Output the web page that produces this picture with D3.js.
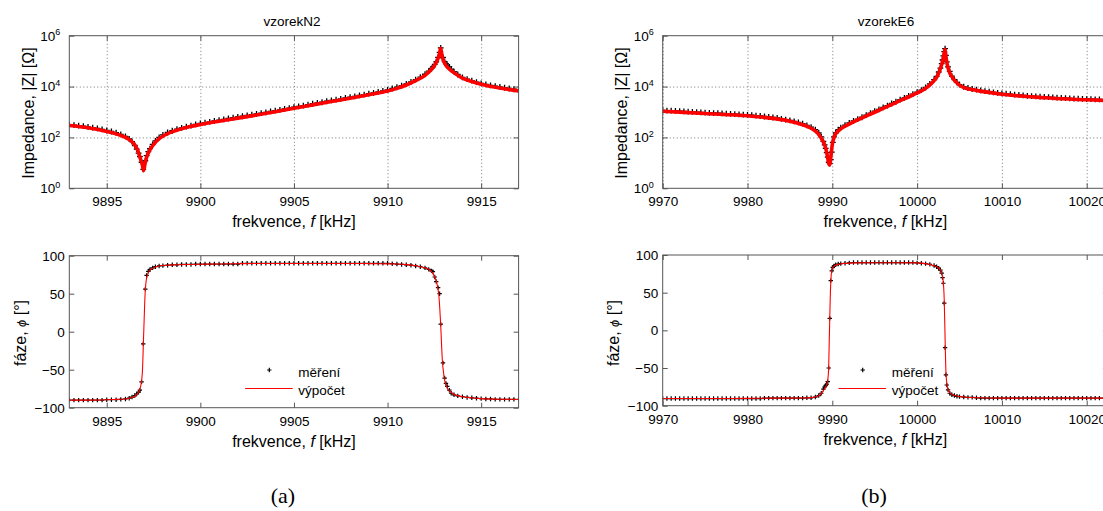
<!DOCTYPE html>
<html>
<head>
<meta charset="utf-8">
<script src="https://cdn.jsdelivr.net/npm/d3@7"></script>
<style>
    body{margin:0;background:#fff;}
    svg{display:block;}
    .grid .domain{display:none;}
    .grid line{stroke:#555;stroke-dasharray:1,2.5;stroke-width:0.8;}
    .ax .domain{display:none;}
    .ax line{stroke:#555;}
</style>
</head>
<body>
<div id="canvas"></div>
<script>
// vzorekN2 - measured points (f in kHz, log10 |Z| in ohm, phase in deg)
var fN2 = [9893,9893.25,9893.5,9893.75,9894,9894.25,9894.5,9894.75,9895,9895.25,9895.5,9895.75,
    9896,9896.2,9896.35,9896.5,9896.6,9896.7,9896.77,9896.86,9896.95,9897.06,9897.13,9897.22,9897.31,9897.45,9897.6,9897.8,
    9898,9898.25,9898.5,9898.75,9899,9899.25,9899.5,9899.75,9900,9900.25,9900.5,9900.75,9901,9901.25,9901.5,9901.75,
    9902,9902.25,9902.5,9902.75,9903,9903.25,9903.5,9903.75,9904,9904.25,9904.5,9904.75,9905,9905.25,9905.5,9905.75,
    9906,9906.25,9906.5,9906.75,9907,9907.25,9907.5,9907.75,9908,9908.25,9908.5,9908.75,9909,9909.25,9909.5,9909.75,
    9910,9910.25,9910.5,9910.75,9911,9911.25,9911.5,9911.75,9912,
    9912.2,9912.35,9912.42,9912.52,9912.6,9912.7,9912.78,9912.84,9912.96,9913.05,9913.12,9913.19,9913.3,9913.4,9913.55,9913.75,
    9914,9914.25,9914.5,9914.75,9915,9915.25,9915.5,9915.75,9916,9916.25,9916.5,9916.75,9917];
var logZN2 = [2.48,2.46,2.44,2.42,2.39,2.36,2.33,2.29,2.25,2.21,2.16,2.10,
    2.02,1.92,1.81,1.66,1.52,1.36,1.22,1.00,0.72,1.06,1.26,1.42,1.54,1.70,1.84,1.98,
    2.08,2.17,2.24,2.30,2.35,2.40,2.44,2.49,2.53,2.56,2.59,2.63,2.66,2.69,2.72,2.75,
    2.78,2.81,2.84,2.87,2.90,2.93,2.96,3.00,3.03,3.06,3.10,3.13,3.17,3.20,3.23,3.27,
    3.30,3.33,3.36,3.40,3.43,3.46,3.49,3.53,3.56,3.59,3.63,3.66,3.70,3.73,3.77,3.81,
    3.85,3.90,3.95,4.01,4.08,4.16,4.25,4.35,4.46,
    4.58,4.69,4.75,4.85,4.95,5.12,5.32,5.50,5.12,4.96,4.88,4.82,4.75,4.66,4.56,4.45,
    4.34,4.27,4.21,4.15,4.10,4.06,4.02,3.99,3.96,3.93,3.90,3.87,3.85];
var phN2 = [-90,-90,-90,-90,-90,-90,-90,-90,-89.5,-89.5,-89.5,-89,
    -88.5,-87.5,-86,-84,-82,-79.5,-77,-66,-16,56,74,79.5,82,84,85.5,86.5,
    87,87.5,88,88,88.5,88.5,88.5,89,89,89,89,89,89,89,89,89,
    89,90,90,90,90,90,90,90,90,90,90,90,90,90,90,90,
    90,90,90,90,90,90,90,90,90,90,90,90,90,90,90,90,
    90,89.5,89,88.5,88,87.5,86.5,85.5,84,
    82,80,79,72,66,58,50,10,-41,-61,-68,-72,-77,-81,-83,-84.5,
    -85.5,-86.5,-87,-87.5,-88,-88.5,-88.5,-89,-89,-89,-89,-89,-89];

// vzorekN2 - computed model
var fitFN2 = [9893,9894,9895,9895.5,9896,9896.3,9896.5,9896.65,9896.8,9896.9,9896.97,9897.05,9897.15,9897.3,9897.5,
    9897.8,9898.2,9898.7,9899.3,9900,9901,9902,9903,9904,9905,9906,9907,9908,9909,9910,
    9910.5,9911,9911.5,9912,9912.3,9912.5,9912.65,9912.75,9912.84,9912.92,9913.02,9913.15,9913.35,9913.6,9914,
    9914.5,9915,9916,9917];
var fitLogZN2 = [2.47,2.38,2.23,2.14,2.00,1.86,1.70,1.50,1.16,0.92,0.70,0.98,1.26,1.50,1.72,
    1.95,2.13,2.27,2.40,2.51,2.64,2.76,2.88,3.01,3.15,3.28,3.41,3.54,3.68,3.83,
    3.93,4.06,4.23,4.44,4.64,4.82,5.02,5.22,5.50,5.18,4.96,4.80,4.66,4.52,4.33,
    4.20,4.09,3.94,3.83];
var fitPhN2 = [-90,-90,-89.5,-89,-88.5,-87,-85,-81.5,-73,-55,-5,50,73,80.5,84,
    86.5,87.5,88,88.5,88.8,89,89.5,89.8,89.8,89.8,89.8,89.8,89.8,89.6,89.3,
    89,88.3,86.8,84,80.5,73,62,45,8,-35,-60,-72,-79,-83,-85.5,
    -87,-88,-88.8,-89.2];

// vzorekE6 - measured points
var fE6 = [9970,9970.5,9971,9971.5,9972,9972.5,9973,9973.5,9974,9974.5,9975,9975.5,9976,9976.5,9977,9977.5,9978,9978.5,
    9979,9979.5,9980,9980.5,9981,9981.5,9982,9982.5,9983,9983.5,9984,9984.5,9985,9985.5,9986,9986.5,9987,9987.5,
    9988,9988.4,9988.7,9988.95,9989.1,9989.22,9989.34,9989.46,9989.58,9989.7,9989.82,9989.94,9990.06,9990.2,9990.4,9990.7,9991,
    9991.5,9992,9992.5,9993,9993.5,9994,9994.5,9995,9995.5,9996,9996.5,9997,9997.5,9998,9998.5,9999,9999.5,10000,10000.5,10001,10001.5,10002,
    10002.3,10002.55,10002.75,10002.9,10003,10003.1,10003.2,10003.3,10003.4,10003.5,10003.65,10003.85,10004.1,10004.4,10004.7,10005,
    10005.5,10006,10006.5,10007,10007.5,10008,10008.5,10009,10009.5,10010,10010.5,10011,10011.5,10012,10012.5,10013,10013.5,
    10014,10014.5,10015,10015.5,10016,10016.5,10017,10017.5,10018,10018.5,10019,10019.5,10020,10020.5,10021,10021.5,10022];
var logZE6 = [3.04,3.03,3.03,3.02,3.01,3.00,2.99,2.98,2.97,2.96,2.95,2.94,2.93,2.93,2.92,2.91,2.90,2.89,
    2.88,2.87,2.86,2.85,2.83,2.82,2.80,2.78,2.76,2.74,2.71,2.68,2.65,2.61,2.57,2.52,2.45,2.38,
    2.28,2.15,2.00,1.82,1.68,1.55,1.38,1.20,1.00,0.95,1.10,1.40,1.78,2.00,2.15,2.28,2.36,
    2.46,2.55,2.63,2.70,2.77,2.85,2.93,3.01,3.08,3.16,3.23,3.31,3.38,3.46,3.53,3.61,3.68,3.76,3.84,3.94,4.08,4.25,
    4.38,4.55,4.70,4.88,5.02,5.18,5.35,5.47,5.20,4.95,4.75,4.57,4.39,4.25,4.14,4.05,
    3.97,3.92,3.88,3.86,3.83,3.80,3.78,3.75,3.73,3.71,3.70,3.68,3.66,3.65,3.63,3.61,3.60,
    3.59,3.58,3.57,3.56,3.55,3.54,3.53,3.52,3.51,3.50,3.50,3.49,3.48,3.48,3.47,3.47,3.46];
var phE6 = [-90.5,-90.5,-90.5,-90.5,-90.5,-90.5,-90.5,-90.5,-90.5,-90.5,-90.5,-90.5,-90.5,-90.5,-90.5,-90.5,-90.5,-90.5,
    -90.5,-90.5,-90.5,-90.5,-90.5,-90.5,-90,-90,-90,-90,-90,-90,-90,-90,-90,-90,-89.5,-89.5,
    -88.5,-86.5,-83.5,-78,-75,-73,-71.5,-68,-50,16,66,79,83.5,85.5,87,88,88.5,
    89,89.5,90,90,90,90,90,90,90,90,90,90,90,90,90,90,90,89.5,89,88.5,87.5,86,
    84.5,82.5,80,76,70,62.5,36,-23,-59,-72.5,-79,-83.5,-85.5,-86.5,-87.5,-88,
    -88.5,-89,-89,-89.5,-90,-90,-90,-90,-90,-90,-90,-90,-90,-90,-90,-90,-90,
    -90,-90,-90,-90,-90,-90,-90,-90,-90,-90,-90,-90,-90,-90,-90,-90,-90];

// vzorekE6 - computed model
var fitFE6 = [9970,9975,9980,9983,9985,9986.5,9987.5,9988.3,9988.9,9989.2,
    9989.4,9989.55,9989.65,9989.75,9989.85,9990,9990.3,9990.8,9991.5,9992.5,
    9995,9997.5,10000,10001,10001.8,10002.4,10002.8,10003.05,10003.2,10003.3,
    10003.4,10003.55,10003.8,10004.2,10004.8,10005.5,10007,10010,10015,10022.5];
var fitLogZE6 = [3.03,2.94,2.85,2.75,2.64,2.50,2.36,2.16,1.85,1.60,
    1.30,1.02,0.92,1.00,1.30,1.72,2.08,2.28,2.44,2.61,
    2.99,3.37,3.75,3.93,4.16,4.42,4.76,5.07,5.32,5.47,
    5.18,4.87,4.58,4.34,4.11,3.96,3.85,3.70,3.56,3.45];
var fitPhE6 = [-90.5,-90.5,-90.3,-90,-90,-89.8,-89.3,-87.5,-81,-75,
    -70,-55,-10,40,70,82,86,87.8,88.8,89.5,
    89.8,89.8,89.5,88.5,86.5,84,79,68,40,-10,
    -55,-74,-82,-85.5,-87.5,-88.5,-89.5,-90,-90,-90];

var ticksN2 = [9895,9900,9905,9910,9915];
var ticksE6 = [9970,9980,9990,10000,10010,10020];
var zTicks = [1,1e2,1e4,1e6];
var phTicks = [-100,-50,0,50,100];
var legendLabels = ["měření","výpočet"];

(function(){

    var FONT = "'Liberation Sans', Arial, sans-serif";
    var svg = d3.select("#canvas").append("svg").attr("width",1103).attr("height",511)
        .attr("font-family",FONT);
    var defs = svg.append("defs");
    var plus = "M-2.2,0H2.2M0,-2.2V2.2";
    var plusBig = "M-2.9,0H2.9M0,-2.9V2.9";

    function styleAxis(g,fs){
        g.attr("font-size",fs).attr("font-family",FONT);
        g.selectAll("text").attr("fill","#000");
        return g;
    }

    function drawPanel(p){
        var x = d3.scaleLinear().domain(p.xDomain).range([p.left,p.right]);
        var yZ = d3.scaleLog().domain([1,1e6]).range([188.3,35.7]);
        var yP = d3.scaleLinear().domain([-100,100]).range(p.phRange);
        var w = p.right-p.left;

        var meas = p.f.map(function(f,i){ return {f:f, z:Math.pow(10,p.logZ[i]), ph:p.ph[i]}; });
        var fit = p.fitF.map(function(f,i){ return {f:f, z:Math.pow(10,p.fitLogZ[i]), ph:p.fitPh[i]}; });

        defs.append("clipPath").attr("id","ct"+p.name).append("rect")
            .attr("x",p.left).attr("y",35.7).attr("width",w).attr("height",188.3-35.7);
        defs.append("clipPath").attr("id","cb"+p.name).append("rect")
            .attr("x",p.left).attr("y",p.phRange[1]).attr("width",w).attr("height",p.phRange[0]-p.phRange[1]);

        // ---- impedance plot
        var top = svg.append("g");
        top.append("g").attr("class","grid").attr("transform","translate(0,188.3)")
            .call(d3.axisBottom(x).tickValues(p.xTicks).tickSize(-(188.3-35.7)).tickFormat(""));
        top.append("g").attr("class","grid").attr("transform","translate("+p.left+",0)")
            .call(d3.axisLeft(yZ).tickValues([1e2,1e4]).tickSize(-w).tickFormat(""));

        var ct = top.append("g").attr("clip-path","url(#ct"+p.name+")");
        ct.selectAll("path.m").data(meas).join("path").attr("class","m")
            .attr("d",plusBig).attr("transform",function(d){ return "translate("+x(d.f)+","+(yZ(d.z)-0.6)+")"; })
            .attr("stroke","#000").attr("stroke-width",1.3);
        ct.append("path").datum(fit)
            .attr("d",d3.line().x(function(d){return x(d.f);}).y(function(d){return yZ(d.z);}).curve(d3.curveMonotoneX))
            .attr("fill","none").attr("stroke","#f00").attr("stroke-width",3.6).attr("stroke-linejoin","round");

        top.append("rect").attr("x",p.left).attr("y",35.7).attr("width",w).attr("height",188.3-35.7)
            .attr("fill","none").attr("stroke","#555").attr("stroke-width",1);

        styleAxis(top.append("g").attr("class","ax").attr("transform","translate(0,188.3)")
            .call(d3.axisBottom(x).tickValues(p.xTicks).tickSizeInner(-5).tickSizeOuter(0).tickPadding(8.5).tickFormat(d3.format("d"))),13.5);
        top.append("g").attr("class","ax").attr("transform","translate(0,35.7)")
            .call(d3.axisTop(x).tickValues(p.xTicks).tickSizeInner(-5).tickSizeOuter(0).tickFormat(""));
        var yl = styleAxis(top.append("g").attr("class","ax").attr("transform","translate("+p.left+",0)")
            .call(d3.axisLeft(yZ).tickValues(zTicks).tickSizeInner(-5).tickSizeOuter(0).tickPadding(9).tickFormat("")),13.5);
        yl.selectAll(".tick text").each(function(d){
            var t = d3.select(this);
            t.text("10");
            t.append("tspan").attr("dy","-0.6em").attr("font-size","9px").text(Math.round(Math.log10(d)));
        });
        top.append("g").attr("class","ax").attr("transform","translate("+p.right+",0)")
            .call(d3.axisRight(yZ).tickValues(zTicks).tickSizeInner(-5).tickSizeOuter(0).tickFormat(""));

        top.append("text").attr("x",p.titleX).attr("y",25.5).attr("text-anchor","middle")
            .attr("font-size",13.5).text(p.name === "N2" ? "vzorekN2" : "vzorekE6");

        var xl = top.append("text").attr("x",(p.left+p.right)/2).attr("y",227).attr("text-anchor","middle").attr("font-size",16);
        xl.append("tspan").text("frekvence, ");
        xl.append("tspan").attr("font-style","italic").text("f");
        xl.append("tspan").text(" [kHz]");

        top.append("text").attr("transform","translate("+(p.left-35.8)+",113) rotate(-90)")
            .attr("text-anchor","middle").attr("font-size",16).text("Impedance, |Z| [Ω]");

        // ---- phase plot
        var bot = svg.append("g");
        var cb = bot.append("g").attr("clip-path","url(#cb"+p.name+")");
        cb.selectAll("path.m").data(meas).join("path").attr("class","m")
            .attr("d",plus).attr("transform",function(d){ return "translate("+x(d.f)+","+yP(d.ph)+")"; })
            .attr("stroke","#000").attr("stroke-width",1.2);
        cb.append("path").datum(fit)
            .attr("d",d3.line().x(function(d){return x(d.f);}).y(function(d){return yP(d.ph);}).curve(d3.curveMonotoneX))
            .attr("fill","none").attr("stroke","#f00").attr("stroke-width",1.1);

        bot.append("rect").attr("x",p.left).attr("y",p.phRange[1]).attr("width",w).attr("height",p.phRange[0]-p.phRange[1])
            .attr("fill","none").attr("stroke","#555").attr("stroke-width",1);

        styleAxis(bot.append("g").attr("class","ax").attr("transform","translate(0,"+p.phRange[0]+")")
            .call(d3.axisBottom(x).tickValues(p.xTicks).tickSizeInner(-5).tickSizeOuter(0).tickPadding(8.5).tickFormat(d3.format("d"))),13.5);
        bot.append("g").attr("class","ax").attr("transform","translate(0,"+p.phRange[1]+")")
            .call(d3.axisTop(x).tickValues(p.xTicks).tickSizeInner(-5).tickSizeOuter(0).tickFormat(""));
        styleAxis(bot.append("g").attr("class","ax").attr("transform","translate("+p.left+",0)")
            .call(d3.axisLeft(yP).tickValues(phTicks).tickSizeInner(-5).tickSizeOuter(0).tickPadding(4.5).tickFormat(d3.format("d"))),13.5);
        bot.append("g").attr("class","ax").attr("transform","translate("+p.right+",0)")
            .call(d3.axisRight(yP).tickValues(phTicks).tickSizeInner(-5).tickSizeOuter(0).tickFormat(""));

        var xl2 = bot.append("text").attr("x",(p.left+p.right)/2).attr("y",p.phRange[0]+39.5).attr("text-anchor","middle").attr("font-size",16);
        xl2.append("tspan").text("frekvence, ");
        xl2.append("tspan").attr("font-style","italic").text("f");
        xl2.append("tspan").text(" [kHz]");

        var yl2 = bot.append("text").attr("transform","translate("+(p.left-43.8)+",333) rotate(-90)")
            .attr("text-anchor","middle").attr("font-size",16);
        yl2.append("tspan").text("fáze,  ");
        yl2.append("tspan").attr("font-style","italic").attr("font-size",13).text("ϕ");
        yl2.append("tspan").text(" [°]");

        // legend
        var lg = bot.append("g").attr("transform","translate("+p.left+",0)");
        lg.append("path").attr("d",plus).attr("transform","translate(200,370)").attr("stroke","#000").attr("stroke-width",1.2);
        lg.append("line").attr("x1",175.8).attr("x2",223.4).attr("y1",388.5).attr("y2",388.5)
            .attr("stroke","#f00").attr("stroke-width",1.1);
        lg.selectAll("text.lg").data(legendLabels).join("text").attr("class","lg")
            .attr("x",229).attr("y",function(d,i){ return 376.5+i*18; })
            .attr("font-size",13.5).text(function(d){ return d; });

        svg.append("text").attr("x",p.capX).attr("y",503).attr("text-anchor","middle")
            .attr("font-family","'Liberation Serif','Times New Roman',serif").attr("font-size",22).text(p.caption);
    }

    drawPanel({name:"N2", f:fN2, logZ:logZN2, ph:phN2, fitF:fitFN2, fitLogZ:fitLogZN2, fitPh:fitPhN2,
        xDomain:[9893,9917], xTicks:ticksN2, left:69.3, right:518.6, phRange:[407.7,255.7],
        titleX:292, caption:"(a)", capX:283});
    drawPanel({name:"E6", f:fE6, logZ:logZE6, ph:phE6, fitF:fitFE6, fitLogZ:fitLogZE6, fitPh:fitPhE6,
        xDomain:[9970,10022.5], xTicks:ticksE6, left:662.7, right:1107.9, phRange:[405.7,255],
        titleX:886, caption:"(b)", capX:874});

})();
</script>
</body>
</html>
